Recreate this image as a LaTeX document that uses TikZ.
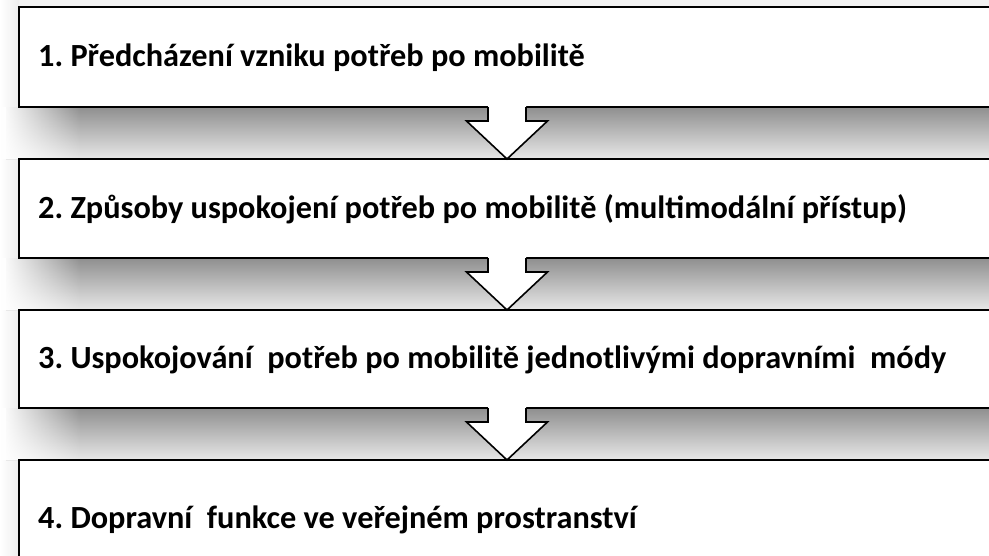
\documentclass[tikz,border=0pt]{standalone}
\usepackage{fontspec}
\setmainfont{Carlito}
\usetikzlibrary{fadings,calc}
\tikzfading[name=fadetoright, left color=transparent!0, right color=transparent!100]
\frenchspacing
\begin{document}
\begin{tikzpicture}[x=1pt,y=-1pt,
  stepbox/.style={draw=black, line width=2pt, fill=white, anchor=north west, minimum width=976pt, inner sep=0pt, outer sep=0pt},
  steptext/.style={anchor=base west, font=\fontsize{32.3}{36}\selectfont\bfseries, inner sep=0pt},
  shadowband/.style={top color=black!44, bottom color=black!9},
  arrowline/.style={draw=black, line width=1.6pt, line join=miter}]
\clip (0,0) rectangle (989,555);
\useasboundingbox (0,0) rectangle (989,555);
% soft glow at the left and top
\shade[left color=white, right color=black!7] (0,0) rectangle (19,555);
\fill[black!5] (19,0) rectangle (989,7);
% shadows under the boxes
\foreach \ya/\yb in {107/159, 258/310, 408/460}{
  \shade[shadowband] (6,\ya) rectangle (995,\yb);
  \fill[white, path fading=fadetoright] (2,\ya) rectangle (80,\yb);
}
% boxes
\node[stepbox, minimum height=100pt] (b1) at (19,7) {};
\node[stepbox, minimum height=99pt] (b2) at (19,159) {};
\node[stepbox, minimum height=98pt] (b3) at (19,310) {};
\node[stepbox, minimum height=120pt] (b4) at (19,460) {};
% texts
\node[steptext] (t1) at (38,66) {1. Předcházení vzniku potřeb po mobilitě};
\node[steptext] (t2) at (38,218) {2. Způsoby uspokojení potřeb po mobilitě (multimodální přístup)};
\node[steptext] (t3) at (38,368) {3. Uspokojování\ \ potřeb po mobilitě jednotlivými dopravními\ \ módy};
\node[steptext] (t4) at (38,528) {4. Dopravní\ \ funkce ve veřejném prostranství};
% block arrows
\foreach \a/\b in {b1/b2, b2/b3, b3/b4}{
  \fill[white] ($(\a.south)+(-19,-2)$) -- ($(\b.north)+(-19,-38)$) -- ($(\b.north)+(-40.5,-38)$)
     -- (\b.north) -- ($(\b.north)+(40.5,-38)$) -- ($(\b.north)+(19,-38)$) -- ($(\a.south)+(19,-2)$) -- cycle;
  \draw[arrowline] ($(\a.south)+(-19,0)$) -- ($(\b.north)+(-19,-38)$) -- ($(\b.north)+(-40.5,-38)$)
     -- (\b.north) -- ($(\b.north)+(40.5,-38)$) -- ($(\b.north)+(19,-38)$) -- ($(\a.south)+(19,0)$);
}
\end{tikzpicture}
\end{document}
